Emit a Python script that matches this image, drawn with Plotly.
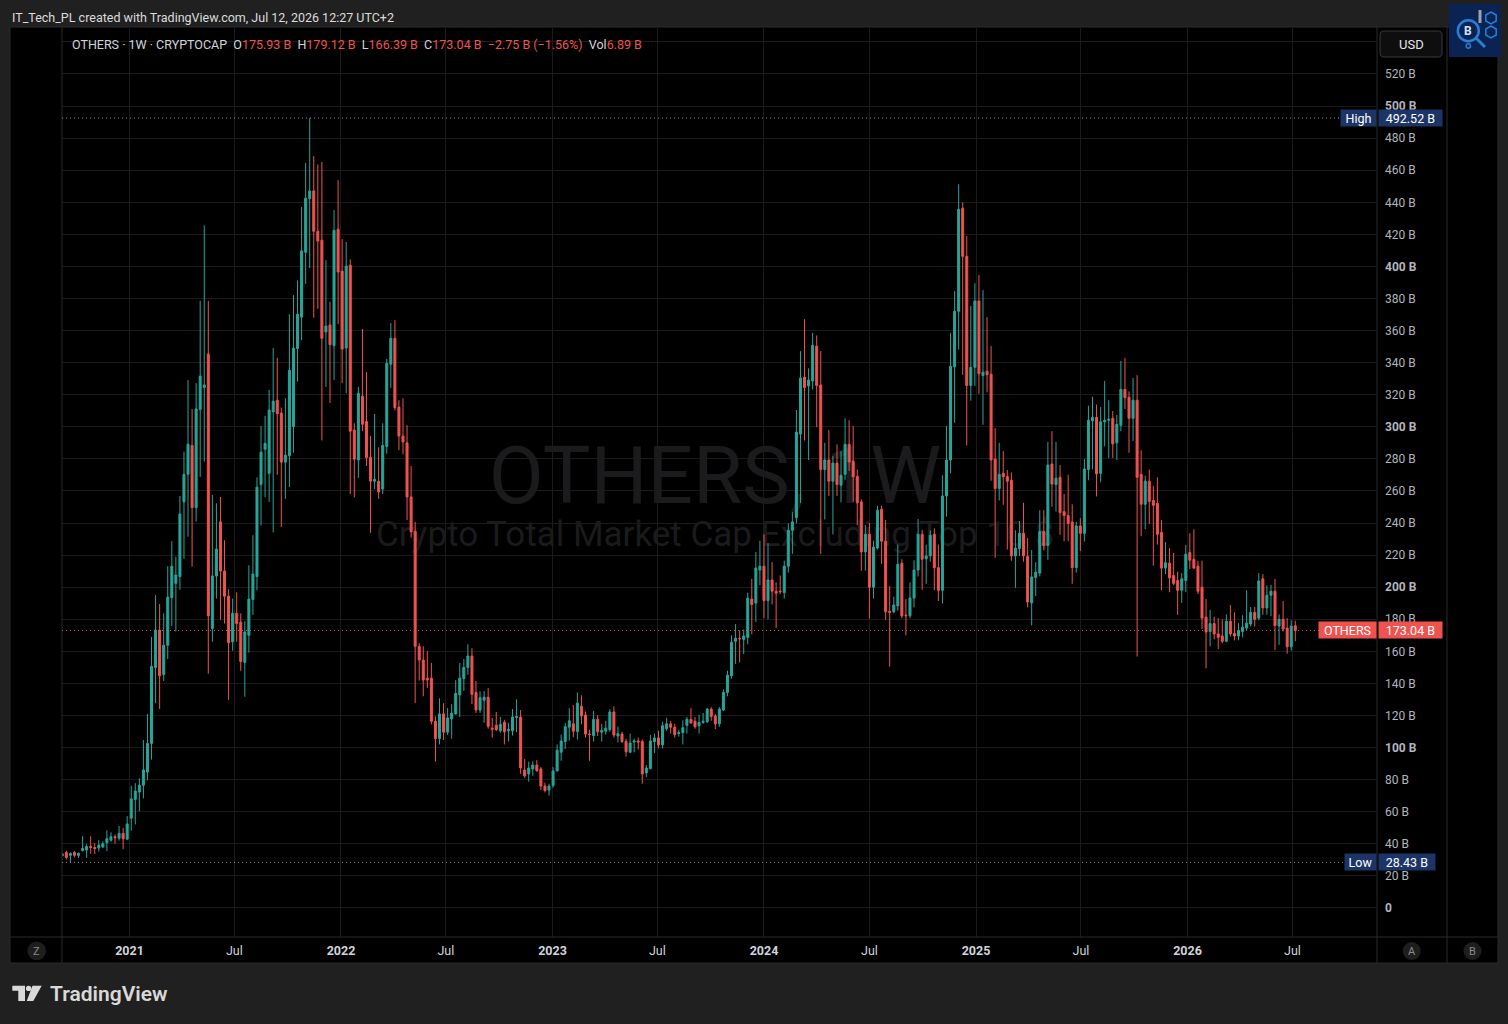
import pandas as pd
import plotly.graph_objects as go

# CRYPTOCAP:OTHERS, weekly candles in billions of USD
first_week = "2020-09-07"
opens = [
    32.6, 34.6, 32.8, 34.6, 32.8, 35.8, 36.1, 38.3, 37.7, 37.4,
    38.0, 40.7, 42.3, 44.4, 43.5, 46.5, 42.9, 56.0, 67.7, 72.3,
    76.5, 84.8, 102.6, 150.0, 173.3, 145.5, 163.8, 193.5, 202.4, 206.7,
    253.2, 270.4, 288.4, 249.6, 310.8, 324.6, 345.4, 174.2, 207.0, 240.7,
    210.1, 194.4, 166.0, 183.7, 178.2, 153.1, 170.0, 192.3, 206.7, 264.0,
    286.0, 271.0, 309.3, 316.6, 308.6, 278.0, 282.0, 300.1, 348.8, 368.4,
    408.8, 442.2, 447.1, 421.9, 416.4, 359.2, 363.5, 350.6, 423.2, 397.1,
    349.1, 400.8, 298.0, 279.3, 319.1, 303.4, 281.1, 266.1, 266.1, 261.2,
    287.8, 339.0, 355.2, 312.3, 294.3, 290.0, 256.3, 234.8, 163.2, 154.6,
    143.3, 143.3, 116.4, 105.6, 121.0, 109.6, 117.9, 121.0, 132.9, 143.0,
    150.0, 157.1, 134.4, 123.4, 129.5, 131.4, 112.1, 113.9, 110.5, 115.7,
    110.5, 110.5, 118.8, 119.1, 86.0, 83.6, 86.7, 89.1, 86.7, 76.0,
    73.5, 76.3, 85.4, 97.1, 103.8, 112.7, 114.8, 110.0, 125.8, 120.3,
    108.4, 107.5, 117.6, 109.6, 110.2, 111.2, 122.2, 107.2, 108.4, 103.8,
    97.1, 103.5, 104.1, 103.8, 84.2, 86.9, 103.8, 106.0, 101.7, 111.8,
    114.8, 112.7, 108.7, 109.3, 113.9, 117.6, 116.4, 113.6, 115.7, 116.1,
    124.0, 119.7, 114.8, 123.4, 134.4, 144.8, 166.3, 168.1, 167.5, 168.7,
    192.6, 190.1, 210.7, 213.1, 191.7, 204.5, 197.5, 197.5, 196.6, 213.1,
    235.5, 243.4, 295.5, 331.0, 325.5, 328.6, 350.3, 326.1, 273.4, 279.3,
    266.1, 277.4, 263.6, 270.4, 289.1, 278.6, 269.1, 253.2, 222.0, 233.0,
    200.0, 224.4, 248.6, 228.7, 185.0, 184.6, 188.3, 214.9, 182.5, 182.2,
    193.2, 210.7, 233.0, 217.7, 219.5, 233.0, 212.2, 198.1, 256.9, 279.3,
    337.4, 372.0, 436.3, 406.3, 325.8, 337.1, 378.5, 331.9, 334.7, 332.8,
    279.9, 261.5, 271.0, 269.1, 266.7, 219.5, 224.1, 233.6, 219.2, 190.2,
    206.1, 208.8, 234.8, 226.0, 276.8, 264.0, 268.5, 247.1, 244.7, 240.7,
    212.2, 238.2, 233.6, 273.4, 303.7, 305.9, 271.0, 303.1, 304.1, 305.3,
    290.0, 301.0, 323.3, 318.4, 305.3, 316.6, 270.4, 251.7, 266.1, 254.1,
    252.3, 234.2, 211.9, 215.0, 207.3, 204.2, 198.1, 204.2, 221.7, 217.4,
    213.1, 200.0, 181.3, 172.4, 177.3, 170.9, 169.6, 166.3, 178.8, 171.2,
    169.6, 172.4, 174.5, 177.0, 184.3, 180.7, 205.2, 187.1, 195.0, 197.5,
    175.8, 180.0, 174.5, 162.9, 175.93,
]
highs = [
    34.2, 35.8, 34.6, 35.5, 34.6, 44.7, 39.8, 44.7, 40.4, 42.3,
    41.5, 48.4, 47.2, 45.9, 51.1, 49.9, 57.3, 76.2, 77.8, 80.8,
    104.7, 121.0, 169.0, 195.1, 189.5, 183.7, 213.1, 228.7, 219.0, 256.9,
    284.5, 329.2, 311.1, 327.3, 378.5, 425.6, 378.5, 257.5, 252.3, 256.3,
    229.3, 198.7, 192.9, 196.9, 183.7, 178.8, 213.7, 232.4, 268.5, 300.4,
    306.8, 323.0, 349.1, 343.0, 312.0, 317.8, 370.2, 382.1, 391.3, 437.0,
    464.5, 492.52, 468.8, 463.6, 465.1, 403.9, 377.9, 435.1, 453.8, 417.0,
    415.2, 404.5, 302.2, 324.9, 361.0, 334.1, 294.3, 308.0, 287.2, 302.2,
    342.3, 364.7, 366.5, 316.6, 317.8, 301.0, 275.6, 240.7, 165.1, 163.2,
    160.1, 152.8, 119.4, 130.7, 127.7, 124.6, 127.1, 142.1, 152.8, 155.2,
    164.4, 162.0, 141.5, 135.1, 135.3, 137.2, 118.5, 122.2, 119.1, 117.3,
    115.4, 124.0, 130.1, 123.4, 92.8, 91.2, 91.5, 92.2, 87.9, 78.1,
    77.5, 87.9, 102.0, 108.1, 115.4, 124.6, 126.5, 134.4, 132.6, 122.5,
    111.1, 122.8, 120.3, 114.8, 116.7, 124.0, 125.8, 113.0, 109.9, 105.6,
    108.7, 105.6, 106.2, 105.0, 89.1, 107.8, 108.7, 110.5, 116.1, 118.5,
    116.7, 114.8, 111.1, 117.0, 119.1, 124.6, 119.1, 120.3, 121.6, 124.6,
    125.2, 121.0, 125.2, 136.3, 147.9, 170.0, 177.0, 173.0, 173.6, 196.6,
    205.2, 222.0, 229.0, 233.0, 227.5, 215.6, 203.0, 207.3, 216.5, 239.8,
    246.8, 310.5, 347.2, 367.1, 336.5, 358.6, 357.0, 347.2, 290.0, 298.0,
    281.7, 289.1, 284.8, 305.3, 304.1, 300.4, 273.4, 254.8, 238.8, 240.1,
    229.0, 250.8, 250.8, 241.9, 200.7, 194.1, 226.6, 217.4, 192.6, 203.0,
    216.8, 242.5, 235.8, 226.6, 235.5, 236.7, 226.6, 269.8, 300.4, 358.6,
    384.6, 451.3, 440.0, 418.9, 375.4, 389.5, 394.7, 385.2, 368.4, 350.3,
    299.2, 290.0, 284.8, 273.1, 271.6, 235.5, 241.3, 252.6, 230.6, 223.2,
    215.6, 248.0, 248.0, 290.6, 297.3, 290.6, 276.2, 258.1, 270.1, 251.7,
    240.7, 243.1, 279.9, 313.2, 318.8, 313.9, 312.3, 328.6, 316.6, 309.9,
    307.4, 341.1, 343.0, 322.1, 330.4, 332.2, 285.4, 269.5, 273.4, 263.0,
    268.5, 241.9, 228.1, 224.4, 221.4, 209.7, 208.8, 226.3, 233.6, 236.1,
    216.5, 216.5, 192.6, 185.9, 181.6, 180.7, 180.0, 183.1, 188.9, 184.3,
    177.6, 182.5, 198.1, 187.7, 187.7, 208.8, 208.2, 201.2, 201.5, 205.2,
    183.1, 191.4, 180.7, 179.4, 179.12,
]
lows = [
    32.3, 30.3, 28.43, 31.5, 31.2, 35.2, 31.2, 33.7, 33.7, 35.2,
    37.5, 35.5, 41.3, 40.0, 42.0, 36.7, 42.6, 48.1, 52.1, 60.3,
    68.3, 79.6, 92.5, 127.7, 124.0, 141.5, 155.2, 175.8, 172.4, 198.4,
    217.7, 231.5, 212.8, 241.0, 268.8, 278.3, 146.1, 166.0, 192.9, 179.7,
    177.3, 129.8, 160.4, 166.0, 147.9, 131.7, 159.2, 182.8, 198.1, 238.5,
    256.0, 253.2, 234.2, 270.1, 237.6, 255.1, 262.4, 283.8, 328.2, 354.0,
    389.2, 399.0, 368.0, 373.6, 291.5, 324.9, 314.8, 329.2, 364.1, 327.3,
    320.9, 258.1, 256.0, 268.2, 297.3, 275.6, 233.9, 261.2, 255.1, 258.1,
    283.2, 324.3, 310.2, 285.4, 282.9, 241.9, 230.9, 127.7, 141.8, 132.0,
    137.2, 114.5, 91.2, 102.0, 104.7, 107.8, 105.6, 120.6, 119.1, 135.3,
    145.5, 127.1, 121.6, 121.6, 115.4, 111.8, 106.2, 110.2, 109.3, 102.0,
    103.8, 107.5, 109.6, 83.6, 81.1, 78.7, 82.4, 84.8, 73.5, 72.0,
    70.1, 75.0, 85.4, 91.8, 99.2, 104.4, 106.5, 105.0, 114.5, 106.2,
    91.8, 103.8, 107.2, 103.8, 108.1, 109.9, 106.2, 103.2, 102.9, 94.3,
    96.5, 97.1, 98.9, 77.5, 81.7, 86.4, 96.5, 99.5, 99.5, 110.5,
    108.7, 106.2, 106.8, 102.0, 108.7, 114.8, 111.8, 108.7, 114.8, 115.4,
    116.7, 111.5, 113.0, 122.8, 132.0, 143.0, 152.2, 153.1, 158.3, 164.4,
    170.6, 178.2, 201.2, 180.7, 180.0, 189.2, 174.5, 195.7, 192.9, 209.1,
    220.8, 239.8, 252.6, 291.5, 279.3, 323.3, 299.8, 220.8, 242.2, 256.9,
    233.0, 256.9, 252.9, 267.0, 272.5, 253.2, 238.8, 210.3, 210.3, 180.4,
    192.9, 223.5, 214.6, 179.6, 150.4, 184.0, 185.3, 180.7, 170.0, 180.7,
    187.4, 206.7, 198.4, 202.1, 215.9, 198.1, 191.4, 189.8, 244.0, 271.0,
    302.5, 348.2, 332.5, 288.4, 316.3, 325.5, 320.6, 301.3, 321.5, 266.4,
    218.3, 254.1, 251.4, 223.5, 216.5, 199.6, 219.5, 215.9, 187.4, 176.1,
    194.4, 206.7, 222.9, 217.1, 250.2, 247.1, 232.7, 228.7, 228.7, 202.1,
    209.1, 222.6, 228.4, 266.7, 273.4, 256.6, 265.5, 287.8, 280.5, 280.5,
    279.3, 297.3, 311.1, 283.8, 291.2, 156.8, 231.8, 236.1, 239.5, 213.4,
    226.6, 198.1, 208.2, 196.9, 201.2, 182.8, 190.2, 196.9, 211.3, 211.3,
    195.7, 173.9, 149.4, 163.2, 167.5, 161.4, 165.1, 165.7, 169.3, 166.9,
    166.9, 168.7, 172.7, 175.5, 175.5, 179.4, 182.8, 182.8, 181.9, 160.8,
    164.1, 172.4, 158.6, 160.4, 166.39,
]
closes = [
    33.7, 31.5, 34.0, 32.8, 34.0, 37.1, 38.3, 37.7, 37.1, 39.2,
    40.1, 43.2, 44.4, 43.8, 46.5, 43.2, 52.4, 68.0, 72.9, 76.5,
    86.0, 102.6, 150.6, 173.3, 144.8, 163.8, 193.8, 213.1, 207.6, 245.6,
    270.4, 289.1, 249.6, 311.1, 331.6, 326.1, 182.2, 207.0, 223.8, 210.1,
    194.4, 165.4, 183.7, 177.3, 153.7, 172.1, 192.6, 208.2, 262.4, 284.2,
    289.7, 310.5, 316.0, 308.3, 278.0, 282.3, 335.3, 349.1, 370.2, 409.7,
    442.5, 447.1, 421.9, 415.8, 355.2, 362.9, 351.2, 422.5, 396.5, 348.5,
    400.2, 297.3, 279.9, 320.9, 301.6, 280.8, 266.1, 267.3, 259.4, 288.4,
    339.6, 355.2, 312.0, 294.3, 290.6, 256.3, 234.5, 163.2, 154.6, 142.1,
    142.1, 116.4, 105.6, 121.0, 109.6, 118.5, 121.5, 133.8, 143.3, 150.0,
    157.1, 133.2, 123.4, 131.1, 131.4, 113.3, 111.5, 111.2, 114.5, 109.9,
    111.2, 119.1, 119.4, 87.3, 82.4, 87.3, 89.1, 85.7, 76.0, 73.2,
    76.0, 85.4, 98.3, 104.1, 113.0, 116.7, 110.2, 127.7, 119.7, 108.4,
    108.1, 117.6, 109.9, 110.8, 112.1, 122.2, 107.8, 108.7, 103.8, 97.4,
    102.9, 104.1, 103.5, 83.6, 87.3, 104.1, 106.0, 101.7, 113.6, 114.8,
    112.7, 108.1, 109.3, 112.4, 117.6, 115.4, 113.0, 115.7, 116.4, 124.0,
    119.4, 114.8, 124.0, 134.4, 145.1, 165.7, 168.1, 167.8, 169.6, 193.2,
    189.2, 211.9, 213.1, 191.7, 204.5, 197.5, 196.3, 197.2, 213.1, 235.5,
    240.7, 296.7, 330.4, 324.6, 329.2, 350.9, 325.8, 273.4, 279.3, 266.1,
    277.4, 264.0, 269.8, 289.1, 278.0, 268.8, 252.6, 222.0, 233.0, 200.0,
    225.0, 248.0, 228.7, 184.7, 184.3, 188.9, 214.3, 182.2, 182.2, 193.2,
    210.7, 233.0, 217.4, 219.5, 232.4, 212.2, 198.1, 256.9, 279.3, 337.7,
    372.0, 435.7, 406.3, 325.8, 337.1, 378.5, 333.1, 334.1, 332.5, 279.3,
    261.5, 270.4, 268.8, 266.1, 219.5, 224.4, 233.6, 219.5, 190.8, 206.4,
    209.4, 234.8, 226.0, 276.2, 264.3, 268.0, 246.5, 244.7, 239.8, 212.2,
    238.2, 233.6, 273.7, 304.1, 305.9, 270.7, 303.1, 304.1, 304.7, 289.4,
    301.6, 323.3, 318.1, 305.3, 316.6, 268.5, 251.7, 266.1, 253.5, 251.1,
    233.0, 211.9, 215.3, 205.8, 202.4, 198.1, 205.2, 220.5, 216.8, 211.9,
    197.5, 180.7, 172.1, 177.3, 170.9, 168.7, 166.3, 178.8, 170.9, 169.6,
    173.0, 175.1, 177.6, 184.3, 180.0, 203.9, 187.1, 195.0, 197.5, 176.1,
    180.0, 173.9, 162.9, 175.79, 173.04,
]
last_volume = 6.89

price_ticks = [0, 20, 40, 60, 80, 100, 120, 140, 160, 180, 200, 220, 240, 260,
               280, 300, 320, 340, 360, 380, 400, 420, 440, 460, 480, 500, 520, 540]
time_ticks = ["2021-01-01", "2021-07-01", "2022-01-01", "2022-07-01",
              "2023-01-01", "2023-07-01", "2024-01-01", "2024-07-01",
              "2025-01-01", "2025-07-01", "2026-01-01", "2026-07-01"]
time_labels = ["2021", "Jul", "2022", "Jul", "2023", "Jul",
               "2024", "Jul", "2025", "Jul", "2026", "Jul"]

UP = "#26a69a"
DOWN = "#ef5350"
TAG_BLUE = "#1c3566"
TXT = "#d1d4dc"
DIM = "#b2b5be"
GRID = "#1b1b1b"
EDGE = "#2a2a2a"
FONT = "Roboto, 'Noto Sans', sans-serif"

W, H = 1508, 1024
PL, PR, PT, PB = 62, 1376, 27, 937  # pane edges in screen pixels


def px(x):
    return (x - PL) / (PR - PL)


def py(y):
    return (PB - y) / (PB - PT)


def poly(points):
    return "M " + " L ".join(f"{px(x):.5f},{py(y):.5f}" for x, y in points) + " Z"


def rounded(x0, y0, x1, y1, r):
    p = lambda x, y: f"{px(x):.5f},{py(y):.5f}"
    return (f"M {p(x0 + r, y0)} L {p(x1 - r, y0)} Q {p(x1, y0)} {p(x1, y0 + r)} "
            f"L {p(x1, y1 - r)} Q {p(x1, y1)} {p(x1 - r, y1)} L {p(x0 + r, y1)} "
            f"Q {p(x0, y1)} {p(x0, y1 - r)} L {p(x0, y0 + r)} Q {p(x0, y0)} {p(x0 + r, y0)} Z")


def circle(cx, cy, r, fill, line_color=None, line_width=0):
    return dict(type="circle", xref="paper", yref="paper",
                x0=px(cx - r), x1=px(cx + r), y0=py(cy + r), y1=py(cy - r),
                fillcolor=fill, line=dict(color=line_color or fill, width=line_width))


def hexagon(cx, cy, r):
    k = 0.866 * r
    return poly([(cx, cy - r), (cx + k, cy - r / 2), (cx + k, cy + r / 2),
                 (cx, cy + r), (cx - k, cy + r / 2), (cx - k, cy - r / 2)])


def label(x, y, text, size, color, anchor="center", weight=None):
    font = dict(family=FONT, size=size, color=color)
    if weight:
        font["weight"] = weight
    return dict(x=px(x), y=py(y), xref="paper", yref="paper", xanchor=anchor,
                yanchor="middle", text=text, font=font, showarrow=False)


dates = pd.date_range(first_week, periods=len(closes), freq="W-MON")
top, bottom, last = max(highs), min(lows), closes[-1]

fig = go.Figure()
fig.add_trace(
    go.Candlestick(
        x=dates, open=opens, high=highs, low=lows, close=closes,
        increasing=dict(line=dict(color=UP, width=1), fillcolor=UP),
        decreasing=dict(line=dict(color=DOWN, width=1), fillcolor=DOWN),
        whiskerwidth=0, showlegend=False, name="OTHERS",
    )
)

shapes = [
    # black chart frame and separators
    dict(type="rect", xref="paper", yref="paper", layer="below",
         x0=px(10), x1=px(1498), y0=py(963), y1=py(27),
         fillcolor="#000000", line=dict(color=EDGE, width=1)),
    dict(type="rect", xref="paper", yref="paper", layer="below",
         x0=px(330), x1=px(1100), y0=py(505), y1=py(435), line=dict(width=0),
         label=dict(text="OTHERS, 1W", textposition="middle center",
                    font=dict(family=FONT, size=80, color="#1b1b1d"))),
    dict(type="rect", xref="paper", yref="paper", layer="below",
         x0=px(330), x1=px(1100), y0=py(550), y1=py(512), line=dict(width=0),
         label=dict(text="Crypto Total Market Cap Excluding Top 10 $", textposition="middle center",
                    font=dict(family=FONT, size=35, color="#1b1b1d"))),
    dict(type="line", xref="paper", yref="paper", x0=px(62), x1=px(62), y0=py(963), y1=py(27),
         line=dict(color=EDGE, width=1)),
    dict(type="line", xref="paper", yref="paper", x0=px(1377), x1=px(1377), y0=py(963), y1=py(27),
         line=dict(color=EDGE, width=1)),
    dict(type="line", xref="paper", yref="paper", x0=px(1447), x1=px(1447), y0=py(963), y1=py(27),
         line=dict(color=EDGE, width=1)),
    dict(type="line", xref="paper", yref="paper", x0=px(10), x1=px(1498), y0=py(937), y1=py(937),
         line=dict(color=EDGE, width=1)),
    # high / low / last price lines
    dict(type="line", xref="paper", yref="y", x0=0, x1=px(1341), y0=top, y1=top,
         line=dict(color="#8a8d96", width=1, dash="1px,3px")),
    dict(type="line", xref="paper", yref="y", x0=0, x1=px(1345), y0=bottom, y1=bottom,
         line=dict(color="#8a8d96", width=1, dash="1px,3px")),
    dict(type="line", xref="paper", yref="y", x0=0, x1=px(1319), y0=last, y1=last,
         line=dict(color=DOWN, width=1, dash="1px,3px")),
    # USD button
    dict(type="path", xref="paper", yref="paper", path=rounded(1380, 31, 1442, 57, 4),
         fillcolor="#0e0e0e", line=dict(color="#3a3a3a", width=1)),
    # round buttons in the time-axis row
    circle(36.7, 950.8, 9.3, "#1e1e1e"),
    circle(1411.7, 951, 9, "#1e1e1e"),
    circle(1472.5, 951, 9, "#1e1e1e"),
    # author badge (top right)
    dict(type="rect", xref="paper", yref="paper", x0=px(1449), x1=px(1501), y0=py(57), y1=py(4),
         fillcolor="#0b2352", line=dict(width=0)),
    circle(1468.3, 30.7, 10.5, "#0b2352", "#2a7fd4", 2.5),
    dict(type="line", xref="paper", yref="paper", x0=px(1476), x1=px(1485), y0=py(38), y1=py(47),
         line=dict(color="#2a7fd4", width=3)),
    circle(1468.3, 46, 2.2, "#0b2352", "#2a7fd4", 1.5),
    dict(type="path", xref="paper", yref="paper", path=hexagon(1491, 18, 6),
         line=dict(color="#2a7fd4", width=1.5)),
    dict(type="path", xref="paper", yref="paper", path=hexagon(1491, 32, 6),
         line=dict(color="#2a7fd4", width=1.5)),
    dict(type="rect", xref="paper", yref="paper", x0=px(1478.5), x1=px(1481.5), y0=py(23), y1=py(10),
         fillcolor="#9aa3b5", line=dict(width=0)),
    # TradingView logo mark
    dict(type="path", xref="paper", yref="paper",
         path=poly([(12.3, 985.7), (25, 985.7), (25, 1001), (18.3, 1001), (18.3, 990.7), (12.3, 990.7)]),
         fillcolor="#d9d9d9", line=dict(width=0)),
    circle(28.6, 988.4, 2.7, "#d9d9d9"),
    dict(type="path", xref="paper", yref="paper",
         path=poly([(32.5, 985.7), (41.7, 985.7), (33.3, 1001), (26.7, 1001)]),
         fillcolor="#d9d9d9", line=dict(width=0)),
]

o, h, l, c = opens[-1], highs[-1], lows[-1], closes[-1]
chg = c - closes[-2]
pct = chg / closes[-2] * 100


def signed(v):
    return ("\u2212" if v < 0 else "+") + f"{abs(v):.2f}"


val = f"color:{DOWN if c < o else UP}"
gap = "\u00a0\u00a0"
legend = (
    f"OTHERS · 1W · CRYPTOCAP{gap}"
    f"O<span style='{val}'>{o:.2f} B</span>{gap}"
    f"H<span style='{val}'>{h:.2f} B</span>{gap}"
    f"L<span style='{val}'>{l:.2f} B</span>{gap}"
    f"C<span style='{val}'>{c:.2f} B</span>{gap}"
    f"<span style='{val}'>{signed(chg)} B ({signed(pct)}%)</span>{gap}"
    f"Vol<span style='{val}'>{last_volume:.2f} B</span>"
)

annotations = [
    label(10, 17, "IT_Tech_PL created with TradingView.com, Jul 12, 2026 12:27 UTC+2",
          12.5, "#dcdcdc", "left"),
    label(70, 44.5, legend, 12.5, TXT, "left"),
    label(1411, 44, "USD", 13, "#e6e6e6"),
    label(36.7, 951, "Z", 11, "#8a8a8a"),
    label(1411.7, 951, "A", 11, "#8a8a8a"),
    label(1472.5, 951, "B", 11, "#8a8a8a"),
    label(1468.3, 30.7, "<b>B</b>", 12, "#cfe3ff"),
    label(48, 993.5, "TradingView", 21, "#d9d9d9", "left", 600),
]


def tag(name, value, bg, label_w, value_w):
    common = dict(xref="paper", yref="y", y=value, yanchor="middle", showarrow=False,
                  bgcolor=bg, borderpad=0, height=16, align="center",
                  font=dict(family=FONT, size=12.5, color="#ffffff"))
    return [
        dict(x=px(1376.5), xanchor="right", text=name, width=label_w, **common),
        dict(x=px(1377.5), xanchor="left", text=f"{value:.2f} B", width=value_w, **common),
    ]


annotations += tag("High", top, TAG_BLUE, 35, 63)
annotations += tag("Low", bottom, TAG_BLUE, 31, 56)
annotations += tag("OTHERS", last, DOWN, 57, 63)


def price_label(v):
    if v == 0:
        return "<b>0</b>"
    if v == 540:  # sits under the USD button
        return ""
    return f"<b>{v} B</b>" if v % 100 == 0 else f"{v} B"


fig.update_layout(
    width=W, height=H, autosize=False,
    margin=dict(l=PL, r=W - PR, t=PT, b=H - PB),
    paper_bgcolor="#202020", plot_bgcolor="#000000",
    font=dict(family=FONT, color=DIM),
    shapes=shapes, annotations=annotations,
    xaxis=dict(
        type="date", range=["2020-09-06 12:00", "2026-11-22 07:00"],
        rangeslider=dict(visible=False),
        tickvals=time_ticks,
        ticktext=[f"<b>{t}</b>" if t.isdigit() else t for t in time_labels],
        tickfont=dict(family=FONT, size=12.5, color=TXT),
        showgrid=True, gridcolor=GRID, gridwidth=1,
        zeroline=False, showline=False, ticks="", ticklabelstandoff=4,
        fixedrange=True,
    ),
    yaxis=dict(
        side="right", range=[-18.1, 549.3],
        tickvals=price_ticks,
        ticktext=[price_label(v) for v in price_ticks],
        tickfont=dict(family=FONT, size=12, color=DIM),
        showgrid=True, gridcolor=GRID, gridwidth=1,
        zeroline=False, showline=False, ticks="", ticklabelstandoff=8,
        fixedrange=True,
    ),
    hovermode=False,
)

fig.write_html(
    "out.html",
    config={"displayModeBar": False},
    post_script="document.body.style.margin='0';document.body.style.background='#202020';",
)
